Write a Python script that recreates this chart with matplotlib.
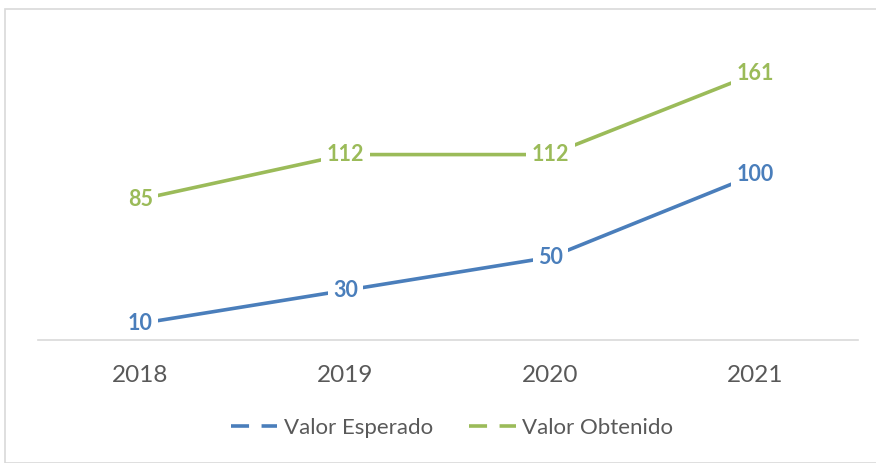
import matplotlib.pyplot as plt
from matplotlib.patches import Rectangle
from matplotlib.lines import Line2D

years = ['2018', '2019', '2020', '2021']
esperado = [10, 30, 50, 100]
obtenido = [85, 112, 112, 161]

azul = '#4a7ebb'
verde = '#9bbb59'

plt.rcParams['font.family'] = ['Lato', 'DejaVu Sans']
plt.rcParams['lines.scale_dashes'] = False

fig = plt.figure(figsize=(8.76, 4.63), dpi=100)
ax = fig.add_axes([38 / 876, 1 - 340 / 463, 820 / 876, 298 / 463])

x = list(range(len(years)))
ax.plot(x, esperado, color=azul, lw=2.6, solid_capstyle='butt', zorder=2)
ax.plot(x, obtenido, color=verde, lw=2.6, solid_capstyle='butt', zorder=2)

# etiquetas de datos encima de la linea, con fondo blanco
for serie, col in [(esperado, azul), (obtenido, verde)]:
    for xi, v in zip(x, serie):
        ax.text(xi, v, str(v), color=col, fontsize=15.5, fontweight='bold',
                ha='center', va='center', zorder=3,
                bbox=dict(boxstyle='square,pad=0.25', fc='white', ec='none'))

ax.set_xlim(-0.5, 3.5)
ax.set_ylim(0, 180)
ax.set_xticks(x)
ax.set_xticklabels(years, fontsize=17.5, color='#595959')
ax.tick_params(axis='x', length=0, pad=18)
ax.set_yticks([])
for s in ['top', 'right', 'left']:
    ax.spines[s].set_visible(False)
ax.spines['bottom'].set_color('#d9d9d9')
ax.spines['bottom'].set_linewidth(1.2)

handles = [Line2D([], [], color=azul, lw=2.6, dashes=(13, 9)),
           Line2D([], [], color=verde, lw=2.6, dashes=(13, 9))]
fig.legend(handles, ['Valor Esperado', 'Valor Obtenido'], loc='center',
           bbox_to_anchor=(452 / 876, 1 - 428 / 463), ncol=2, frameon=False,
           fontsize=16, handlelength=2.1, handletextpad=0.3, columnspacing=1.6,
           labelcolor='#595959')

# borde del grafico
fig.patches.append(Rectangle((5 / 876, 0), 1, 1 - 9 / 463, transform=fig.transFigure,
                             fill=False, ec='#d9d9d9', lw=1.2))

fig.savefig('out.png', dpi=100)
